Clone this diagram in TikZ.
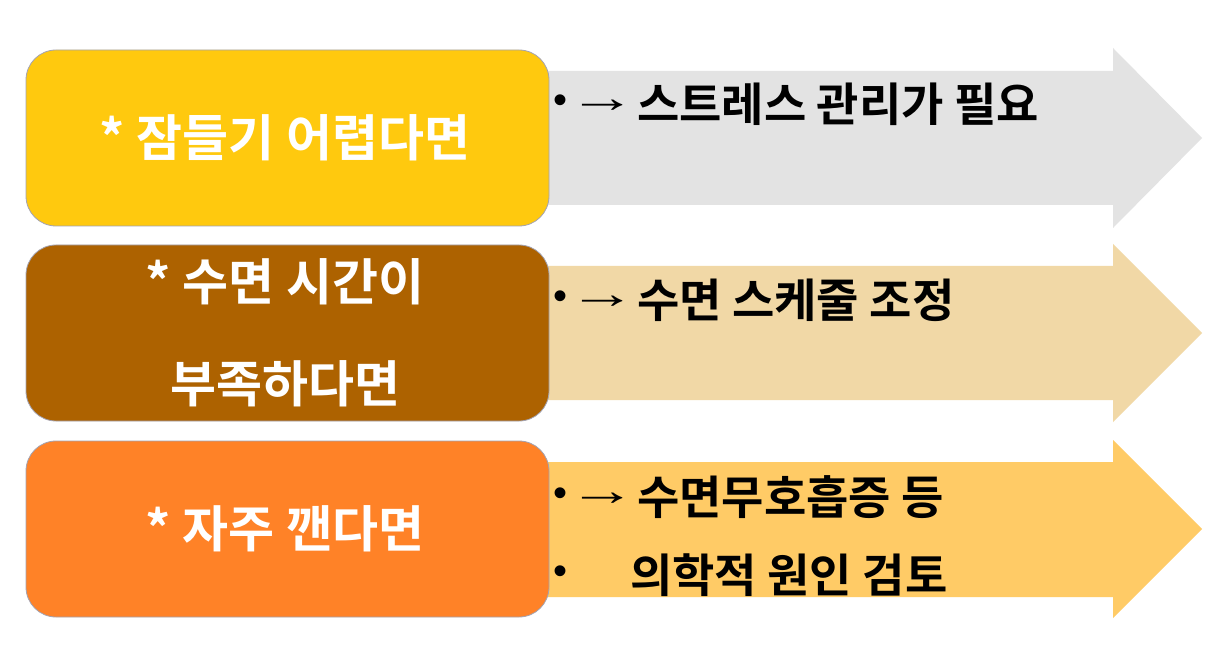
\documentclass[tikz,border=0pt]{standalone}
\usepackage{fontspec}
\usepackage{graphicx}
\setmainfont{Liberation Sans}
\newfontfamily\kr{Noto Sans CJK KR}[BoldFont={* Bold}]
\newfontfamily\arrfont{Liberation Serif}
\definecolor{cYel}{HTML}{FFC90E}
\definecolor{cBrn}{HTML}{AD6200}
\definecolor{cOrg}{HTML}{FF8227}
\definecolor{aGry}{HTML}{E3E3E3}
\definecolor{aTan}{HTML}{F1D8A6}
\definecolor{aYel}{HTML}{FFCB66}
\begin{document}
\begin{tikzpicture}[x=1pt,y=-1pt,
  condbox/.style={draw=white!85!blue!40!gray, line width=0.8pt, rounded corners=30pt},
  condtext/.style={text=white, font=\kr\bfseries\fontsize{50}{50}\selectfont, inner sep=0pt},
  restext/.style={text=black, font=\kr\bfseries\fontsize{46}{46}\selectfont, inner sep=0pt, anchor=west},
  bul/.style={text=black, font=\fontsize{40}{40}\selectfont, inner sep=0pt},
  arr/.style={text=black, font=\arrfont\fontsize{44}{44}\selectfont, inner sep=0pt}]
\useasboundingbox (0,0) rectangle (1229,668);
\fill[white] (0,0) rectangle (1229,668);
% arrows
\fill[aGry] (540,71) -- (1113,71) -- (1113,48) -- (1202,138) -- (1113,228) -- (1113,205) -- (540,205) -- cycle;
\fill[aTan] (540,266) -- (1113,266) -- (1113,244) -- (1202,333) -- (1113,422) -- (1113,400) -- (540,400) -- cycle;
\fill[aYel] (540,462) -- (1113,462) -- (1113,440) -- (1202,529) -- (1113,618) -- (1113,597) -- (540,597) -- cycle;
% boxes
\draw[condbox, fill=cYel] (26,50) rectangle (549,226);
\draw[condbox, fill=cBrn] (26,245) rectangle (549,421);
\draw[condbox, fill=cOrg] (26,441) rectangle (549,617);
% box texts
\node[condtext] (c1) at (285,138) {* 잠들기 어렵다면};
\node[condtext] (c2a) at (285,282) {* 수면 시간이};
\node[condtext] (c2b) at (285,384) {부족하다면};
\node[condtext] (c3) at (285,529) {* 자주 깬다면};
% arrow texts
\node[bul] (b1) at (560,104) {•};
\node[arr] (r1) at (603,106) {\scalebox{1.55}[1]{→}};
\node[restext] (t1) at (637,104) {스트레스 관리가 필요};
\node[bul] (b2) at (560,300) {•};
\node[arr] (r2) at (603,302) {\scalebox{1.55}[1]{→}};
\node[restext] (t2) at (637,300) {수면 스케줄 조정};
\node[bul] (b3) at (560,497) {•};
\node[arr] (r3) at (603,499) {\scalebox{1.55}[1]{→}};
\node[restext] (t3) at (637,497) {수면무호흡증 등};
\node[bul] (b4) at (560,575) {•};
\node[restext] (t4) at (630,575) {의학적 원인 검토};
\end{tikzpicture}
\end{document}
